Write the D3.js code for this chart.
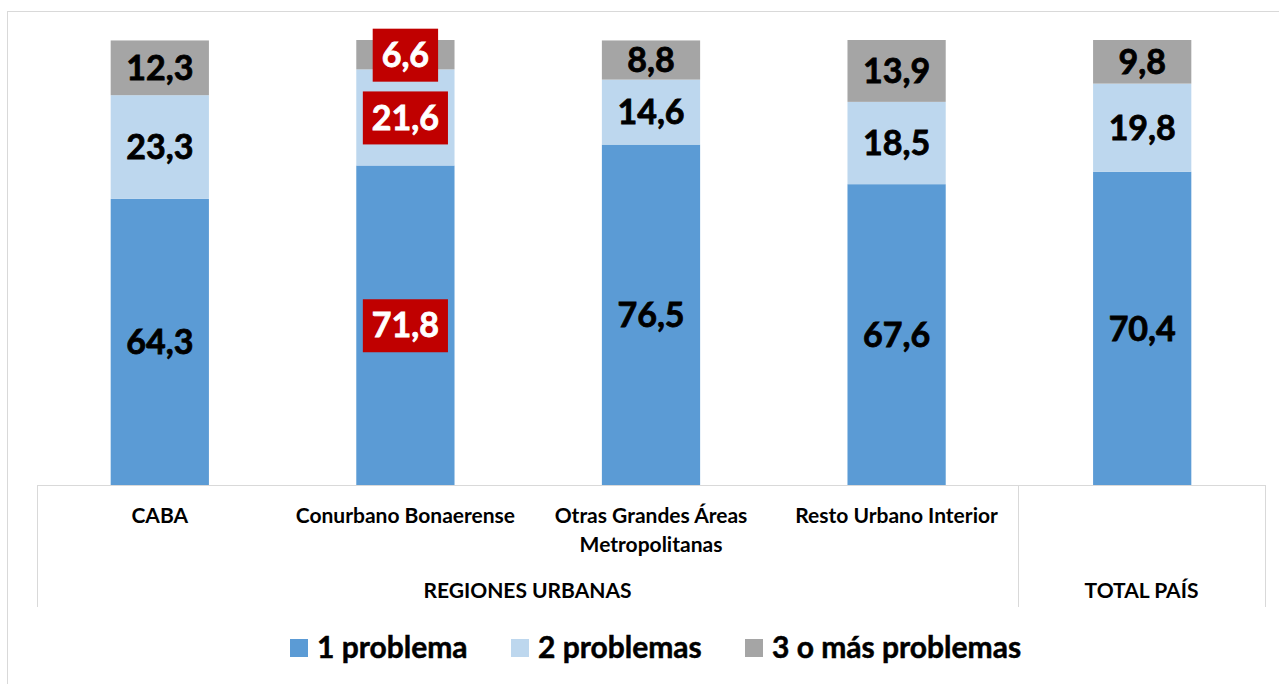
<!DOCTYPE html>
<html>
<head>
<meta charset="utf-8">
<script src="https://cdn.jsdelivr.net/npm/d3@7"></script>
<style>
  body { margin: 0; background: #fff; }
  text { font-family: Lato, "Open Sans", sans-serif; font-weight: bold; }
</style>
</head>
<body>
<div id="chart"></div>
<script>
var regions = ["CABA", "Conurbano Bonaerense", "Otras Grandes Áreas|Metropolitanas", "Resto Urbano Interior", "TOTAL"];
var series = ["1 problema", "2 problemas", "3 o más problemas"];
var uno = [64.3, 71.8, 76.5, 67.6, 70.4];
var dos = [23.3, 21.6, 14.6, 18.5, 19.8];
var tres = [12.3, 6.6, 8.8, 13.9, 9.8];
var groups = ["REGIONES URBANAS", "TOTAL PAÍS"];
// labels highlighted in red boxes: [region index, series index]
var highlighted = [[1, 0], [1, 1], [1, 2]];

var colors = ["#5B9BD5", "#BDD7EE", "#A5A5A5"];

var svgWidth = 1279, svgHeight = 684;
var svg = d3.select("#chart").append("svg")
    .attr("width", svgWidth)
    .attr("height", svgHeight);

// outer frame
svg.append("rect")
    .attr("x", 7.5).attr("y", 11.5)
    .attr("width", 1300).attr("height", 700)
    .attr("fill", "none")
    .attr("stroke", "#d9d9d9");

var x = d3.scaleBand().domain(d3.range(regions.length)).range([37, 1265]).paddingInner(0.6).paddingOuter(0.3);
var y = d3.scaleLinear().domain([0, 100]).range([485, 40]);

var data = regions.map(function(r, i) {
    return { i: i, v: [uno[i], dos[i], tres[i]] };
});
var stacked = d3.stack().keys([0, 1, 2]).value(function(d, k) { return d.v[k]; })(data);

var layer = svg.selectAll("g.layer")
    .data(stacked)
    .enter().append("g")
    .attr("class", "layer")
    .attr("fill", function(d, k) { return colors[k]; });

layer.selectAll("rect")
    .data(function(d) { return d; })
    .enter().append("rect")
    .attr("x", function(d) { return x(d.data.i); })
    .attr("width", x.bandwidth())
    .attr("y", function(d) { return y(d[1]); })
    .attr("height", function(d) { return y(d[0]) - y(d[1]); });

// value labels
var fmt = function(v) { return v.toFixed(1).replace(".", ","); };
stacked.forEach(function(s, k) {
    s.forEach(function(d) {
        var cx = x(d.data.i) + x.bandwidth() / 2;
        var cy = (y(d[0]) + y(d[1])) / 2;
        var hot = highlighted.some(function(h) { return h[0] === d.data.i && h[1] === k; });
        var t = svg.append("text")
            .attr("x", cx)
            .attr("y", cy)
            .attr("dy", "0.36em")
            .attr("text-anchor", "middle")
            .attr("font-size", 34)
            .attr("stroke", hot ? "#fff" : "#000")
            .attr("stroke-width", 0.8)
            .attr("fill", hot ? "#fff" : "#000")
            .text(fmt(d.data.v[k]));
        if (hot) {
            var bb = t.node().getBBox();
            svg.insert("rect", function() { return t.node(); })
                .attr("x", bb.x - 9).attr("y", cy - 26)
                .attr("width", bb.width + 18).attr("height", 53)
                .attr("fill", "#C00000");
        }
    });
});

// axis line and category dividers
var axisG = svg.append("g").attr("stroke", "#d9d9d9").attr("fill", "none");
axisG.append("line").attr("x1", 37).attr("x2", 1265).attr("y1", 485.5).attr("y2", 485.5);
[37, 1018, 1265].forEach(function(px) {
    axisG.append("line").attr("x1", px + 0.5).attr("x2", px + 0.5).attr("y1", 485).attr("y2", 607);
});

regions.forEach(function(r, i) {
    if (r === "TOTAL") return;
    var t = svg.append("text")
        .attr("text-anchor", "middle")
        .attr("font-size", 21)
        .attr("fill", "#000");
    r.split("|").forEach(function(line, j) {
        t.append("tspan")
            .attr("x", x(i) + x.bandwidth() / 2)
            .attr("y", 523 + j * 29)
            .text(line);
    });
});

svg.append("text").attr("x", (37 + 1018) / 2).attr("y", 598)
    .attr("text-anchor", "middle").attr("font-size", 21).text(groups[0]);
svg.append("text").attr("x", (1018 + 1265) / 2).attr("y", 598)
    .attr("text-anchor", "middle").attr("font-size", 21).text(groups[1]);

// legend
var legendX = [290, 511, 745];
series.forEach(function(s, k) {
    svg.append("rect")
        .attr("x", legendX[k]).attr("y", 639)
        .attr("width", 18).attr("height", 18)
        .attr("fill", colors[k]);
    svg.append("text")
        .attr("x", legendX[k] + 27).attr("y", 658)
        .attr("font-size", 30)
        .attr("stroke", "#000")
        .attr("stroke-width", 0.5)
        .text(s);
});
</script>
</body>
</html>
